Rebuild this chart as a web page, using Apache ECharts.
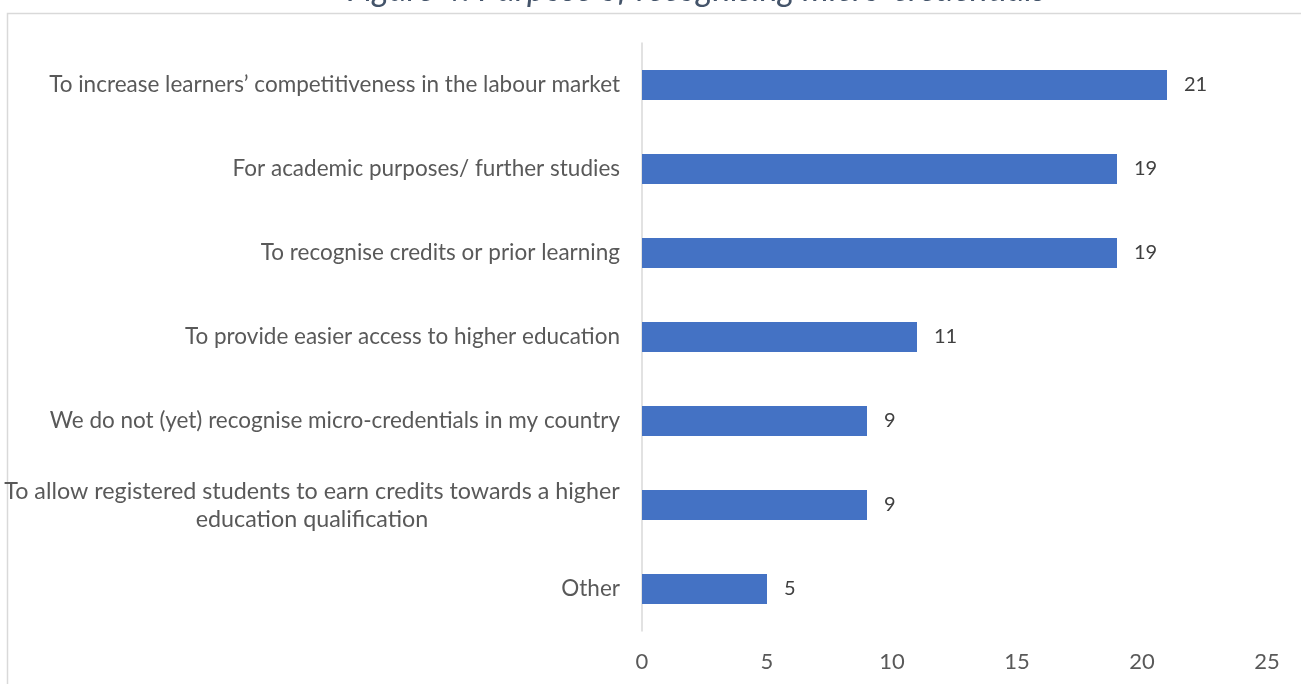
<!DOCTYPE html>
<html>
<head>
<meta charset="utf-8">
<script src="https://cdn.jsdelivr.net/npm/echarts@6/dist/echarts.min.js"></script>
<style>html,body{margin:0;padding:0;background:#fff;}#c{width:1301px;height:684px;}</style>
</head>
<body>
<div id="c"></div>
<script>
const titleText = 'Figure 4: Purpose of recognising micro-credentials';
const categories = [
  'To increase learners\u2019 competitiveness in the labour market',
  'For academic purposes/ further studies',
  'To recognise credits or prior learning',
  'To provide easier access to higher education',
  'We do not (yet) recognise micro-credentials in my country',
  'To allow registered students to earn credits towards a higher\neducation qualification',
  'Other'
];
const values = [21, 19, 19, 11, 9, 9, 5];
const xTicks = [0, 5, 10, 15, 20, 25];

const FONT = 'Lato';
const chart = echarts.init(document.getElementById('c'), null, {renderer: 'canvas'});
chart.setOption({
  animation: false,
  backgroundColor: '#ffffff',
  title: {
    text: titleText,
    right: 250,
    top: -32,
    textStyle: {fontFamily: FONT, fontStyle: 'italic', fontWeight: 'normal', fontSize: 34, color: '#44546A'}
  },
  graphic: [{
    type: 'rect', silent: true, z: -1,
    shape: {x: 7.5, y: 13.5, width: 1400, height: 800},
    style: {fill: 'none', stroke: '#d9d9d9', lineWidth: 1.5}
  }],
  grid: {left: 642, right: 34, top: 43, bottom: 53, containLabel: false, outerBoundsMode: 'none'},
  xAxis: {
    type: 'value', min: xTicks[0], max: xTicks[xTicks.length - 1], interval: 5,
    axisLine: {show: false}, axisTick: {show: false}, splitLine: {show: false},
    axisLabel: {fontFamily: FONT, fontSize: 22, color: '#595959', margin: 20}
  },
  yAxis: {
    type: 'category', data: categories, inverse: true,
    axisLine: {show: true, lineStyle: {color: '#d9d9d9', width: 1.5}},
    axisTick: {show: false},
    axisLabel: {
      fontFamily: FONT, fontSize: 22.5, color: '#595959', margin: 22, lineHeight: 28,
      formatter: function (v) {
        if (v.indexOf('\n') >= 0) {
          return v.split('\n').map(function (s) { return '{c|' + s + '}'; }).join('\n');
        }
        return v;
      },
      rich: {c: {fontFamily: FONT, fontSize: 23.3, color: '#595959', width: 616, align: 'center', lineHeight: 28}}
    }
  },
  series: [{
    type: 'bar', data: values, barWidth: 30,
    itemStyle: {color: '#4472C4'},
    label: {show: true, position: 'right', distance: 17, fontFamily: FONT, fontSize: 20, color: '#404040'}
  }]
});
</script>
</body>
</html>
